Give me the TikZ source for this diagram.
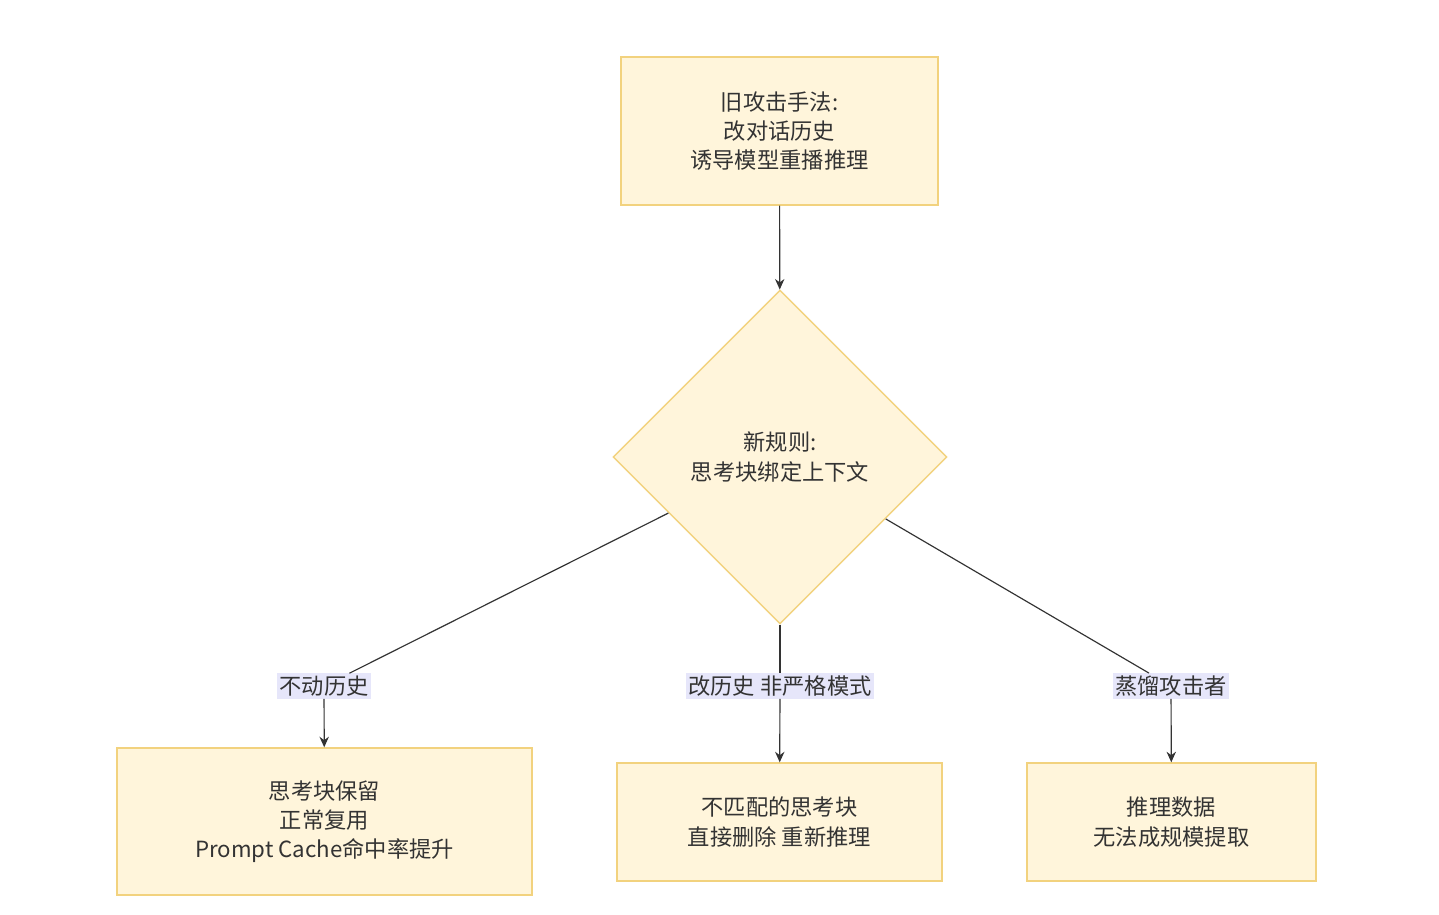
\documentclass[tikz,border=0pt]{standalone}
\usepackage{fontspec}
\setmainfont{Noto Sans CJK SC}
\usetikzlibrary{shapes.geometric,arrows.meta}
\definecolor{boxfill}{HTML}{FFF5DB}
\definecolor{boxline}{HTML}{F2D27E}
\definecolor{lblfill}{HTML}{E6E6FA}
\definecolor{ln}{HTML}{333333}
\begin{document}
\begin{tikzpicture}[x=0.03cm,y=-0.03cm,
  box/.style={draw=boxline,fill=boxfill,line width=1.2pt,align=center,inner sep=0pt,
    font=\fontsize{19pt}{25pt}\selectfont,text=ln},
  dia/.style={diamond,draw=boxline,fill=boxfill,line width=1.2pt,align=center,inner sep=0pt,
    minimum width=10.02cm,minimum height=10.02cm,font=\fontsize{19pt}{25pt}\selectfont,text=ln},
  lbl/.style={fill=lblfill,inner sep=2pt,font=\fontsize{19pt}{25pt}\selectfont,text=ln},
  con/.style={draw=ln,line width=1pt},
  arr/.style={con,-{Stealth[length=9pt,width=8pt]}}]
\useasboundingbox[fill=white] (0,0) rectangle (1439,914);
\node[box,minimum width=9.51cm,minimum height=4.44cm] (top) at (779.5,131) {旧攻击手法:\\改对话历史\\诱导模型重播推理};
\node[dia] (d) at (780,457) {新规则:\\思考块绑定上下文};
\node[lbl] (l1) at (324,686) {不动历史};
\node[lbl] (l2) at (780,686) {改历史 非严格模式};
\node[lbl] (l3) at (1171,686) {蒸馏攻击者};
\node[box,minimum width=12.45cm,minimum height=4.41cm] (b1) at (324.5,821.5) {思考块保留\\正常复用\\Prompt Cache命中率提升};
\node[box,minimum width=9.75cm,minimum height=3.54cm] (b2) at (779.5,822) {不匹配的思考块\\直接删除 重新推理};
\node[box,minimum width=8.67cm,minimum height=3.54cm] (b3) at (1171.5,822) {推理数据\\无法成规模提取};
\draw[arr] (top) -- (d);
\draw[con] (d) -- (l1);
\draw[con] (d) -- (l2);
\draw[con] (d) -- (l3);
\draw[arr] (l1) -- (b1);
\draw[arr] (l2) -- (b2);
\draw[arr] (l3) -- (b3);
\end{tikzpicture}
\end{document}
